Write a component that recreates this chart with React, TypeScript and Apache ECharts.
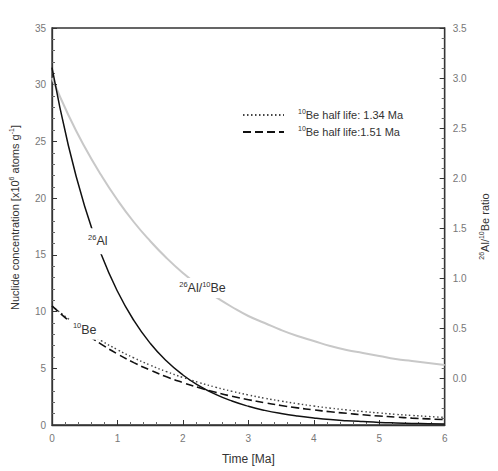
import React, { useEffect, useRef } from "react";
import * as echarts from "echarts";

const time = [0, 0.25, 0.5, 0.75, 1, 1.25, 1.5, 1.75, 2, 2.25, 2.5, 2.75, 3, 3.25, 3.5, 3.75, 4, 4.25, 4.5, 4.75, 5, 5.25, 5.5, 5.75, 6];
const al26 = [31.5, 24.64, 19.27, 15.07, 11.79, 9.22, 7.21, 5.64, 4.41, 3.45, 2.7, 2.11, 1.65, 1.29, 1.01, 0.79, 0.62, 0.48, 0.38, 0.3, 0.23, 0.18, 0.14, 0.11, 0.09];
const be134 = [10.5, 9.36, 8.35, 7.44, 6.64, 5.92, 5.28, 4.7, 4.19, 3.74, 3.33, 2.97, 2.65, 2.36, 2.11, 1.88, 1.67, 1.49, 1.33, 1.19, 1.06, 0.94, 0.84, 0.75, 0.67];
const be151 = [10.5, 9.23, 8.11, 7.13, 6.26, 5.5, 4.84, 4.25, 3.74, 3.28, 2.88, 2.53, 2.23, 1.96, 1.72, 1.51, 1.33, 1.17, 1.03, 0.9, 0.79, 0.7, 0.61, 0.54, 0.47];
const ratio = [3.0, 2.63, 2.31, 2.03, 1.78, 1.56, 1.37, 1.2, 1.05, 0.92, 0.81, 0.71, 0.62, 0.55, 0.48, 0.42, 0.37, 0.32, 0.28, 0.25, 0.22, 0.19, 0.17, 0.15, 0.13];

const legendNames = ["10Be half life: 1.34 Ma", "10Be half life:1.51 Ma"];

const FONT = "'Liberation Sans', Arial, sans-serif";
const TXT = "#333";

const pair = (ys: number[]) => time.map((t, i) => [t, ys[i]]);

const rich = {
  s: { fontSize: 7.5, verticalAlign: "top", lineHeight: 8, fontFamily: FONT, color: TXT },
  n: { fontSize: 12.5, lineHeight: 16, fontFamily: FONT, color: TXT },
  ls: { fontSize: 7, verticalAlign: "top", lineHeight: 7, fontFamily: FONT, color: TXT },
  ln: { fontSize: 11, lineHeight: 14, fontFamily: FONT, color: TXT },
  g: { width: 9 },
};

const labelPoint = (coord: number[], fmt: string, size: number[]) => ({
  coord,
  symbol: "rect",
  symbolSize: size,
  itemStyle: { color: "#fff" },
  label: { show: true, position: "inside", formatter: fmt, rich },
});

export default function App() {
  const ref = useRef<HTMLDivElement>(null);
  useEffect(() => {
    if (!ref.current) return;
    const chart = echarts.init(ref.current, null, { renderer: "svg" });
    const axisLine = { show: true, lineStyle: { color: "#333", width: 1.3 } };
    const labelStyle = { color: "#777", fontSize: 10, fontFamily: FONT };
    chart.setOption({
      animation: false,
      backgroundColor: "#fff",
      textStyle: { fontFamily: FONT },
      grid: { left: 52, right: 48, top: 28, bottom: 46, show: true, borderColor: "#333", borderWidth: 1.3, backgroundColor: "transparent" },
      legend: {
        left: 237,
        top: 103,
        orient: "vertical",
        itemWidth: 41,
        itemHeight: 10,
        itemGap: 4,
        data: legendNames,
        itemStyle: { color: "transparent", borderWidth: 0, opacity: 0 },
        formatter: (name: string) => "{g|}{ls|10}{ln|" + name.slice(2) + "}",
        textStyle: { rich },
      },
      xAxis: {
        type: "value",
        min: 0,
        max: 6,
        interval: 1,
        name: "Time [Ma]",
        nameLocation: "middle",
        nameGap: 28,
        nameTextStyle: { fontSize: 12, color: TXT, fontFamily: FONT },
        axisLine,
        axisTick: { inside: true, length: 5, lineStyle: { color: "#333" } },
        minorTick: { show: true, splitNumber: 5, length: 3, lineStyle: { color: "#666" } },
        axisLabel: { ...labelStyle, margin: 8 },
        splitLine: { show: false },
      },
      yAxis: [
        {
          type: "value",
          min: 0,
          max: 35,
          interval: 5,
          name: "{n1|Nuclide concentration [x10}{s1|6}{n1| atoms g}{s1|-1}{n1|]}",
          nameLocation: "middle",
          nameRotate: 90,
          nameGap: 30,
          nameTextStyle: {
            padding: [0, 0, 0, 18],
            rich: {
              n1: { fontSize: 11, lineHeight: 14, color: TXT, fontFamily: FONT },
              s1: { fontSize: 7, lineHeight: 7, verticalAlign: "top", color: TXT, fontFamily: FONT },
            },
          },
          axisLine,
          axisTick: { inside: true, length: 5, lineStyle: { color: "#333" } },
          minorTick: { show: true, splitNumber: 5, length: 3, lineStyle: { color: "#666" } },
          axisLabel: { ...labelStyle, margin: 6 },
          splitLine: { show: false },
        },
        {
          type: "value",
          position: "right",
          min: -0.47,
          max: 3.5,
          splitNumber: 8,
          name: "{s1|26}{n1|Al/}{s1|10}{n1|Be ratio}",
          nameLocation: "middle",
          nameRotate: 90,
          nameGap: 27,
          nameTextStyle: {
            rich: {
              n1: { fontSize: 11, lineHeight: 14, color: TXT, fontFamily: FONT },
              s1: { fontSize: 7, lineHeight: 7, verticalAlign: "top", color: TXT, fontFamily: FONT },
            },
          },
          axisLine,
          axisTick: { inside: true, length: 5, lineStyle: { color: "#333" } },
          minorTick: { show: true, splitNumber: 5, length: 3, lineStyle: { color: "#666" } },
          axisLabel: {
            ...labelStyle,
            margin: 8,
            showMinLabel: false,
            formatter: (v: number) => (v < -0.01 ? "" : v.toFixed(1)),
          },
          splitLine: { show: false },
        },
      ],
      series: [
        {
          name: "ratio",
          type: "line",
          yAxisIndex: 1,
          data: pair(ratio),
          smooth: true,
          symbol: "none",
          lineStyle: { color: "#c8c8c8", width: 2 },
          z: 2,
          markPoint: {
            silent: true,
            data: [labelPoint([2.3, 0.9], "{s|26}{n|Al/}{s|10}{n|Be}", [60, 20])],
          },
        },
        {
          name: legendNames[0],
          type: "line",
          data: pair(be134),
          smooth: true,
          symbol: "none",
          itemStyle: { color: "#444" },
          lineStyle: { color: "#444", width: 1.4, type: [1.5, 2.5] },
          z: 3,
        },
        {
          name: legendNames[1],
          type: "line",
          data: pair(be151),
          smooth: true,
          symbol: "none",
          itemStyle: { color: "#111" },
          lineStyle: { color: "#111", width: 1.6, type: [8, 4] },
          z: 3,
          markPoint: {
            silent: true,
            data: [labelPoint([0.5, 8.4], "{s|10}{n|Be}", [30, 20])],
          },
        },
        {
          name: "al",
          type: "line",
          data: pair(al26),
          smooth: true,
          symbol: "none",
          lineStyle: { color: "#111", width: 1.5 },
          z: 4,
          markPoint: {
            silent: true,
            data: [labelPoint([0.7, 16.2], "{s|26}{n|Al}", [32, 26])],
          },
        },
      ],
    });
    return () => chart.dispose();
  }, []);
  return <div ref={ref} style={{ position: "fixed", left: 0, top: 0, width: 498, height: 471 }} />;
}
